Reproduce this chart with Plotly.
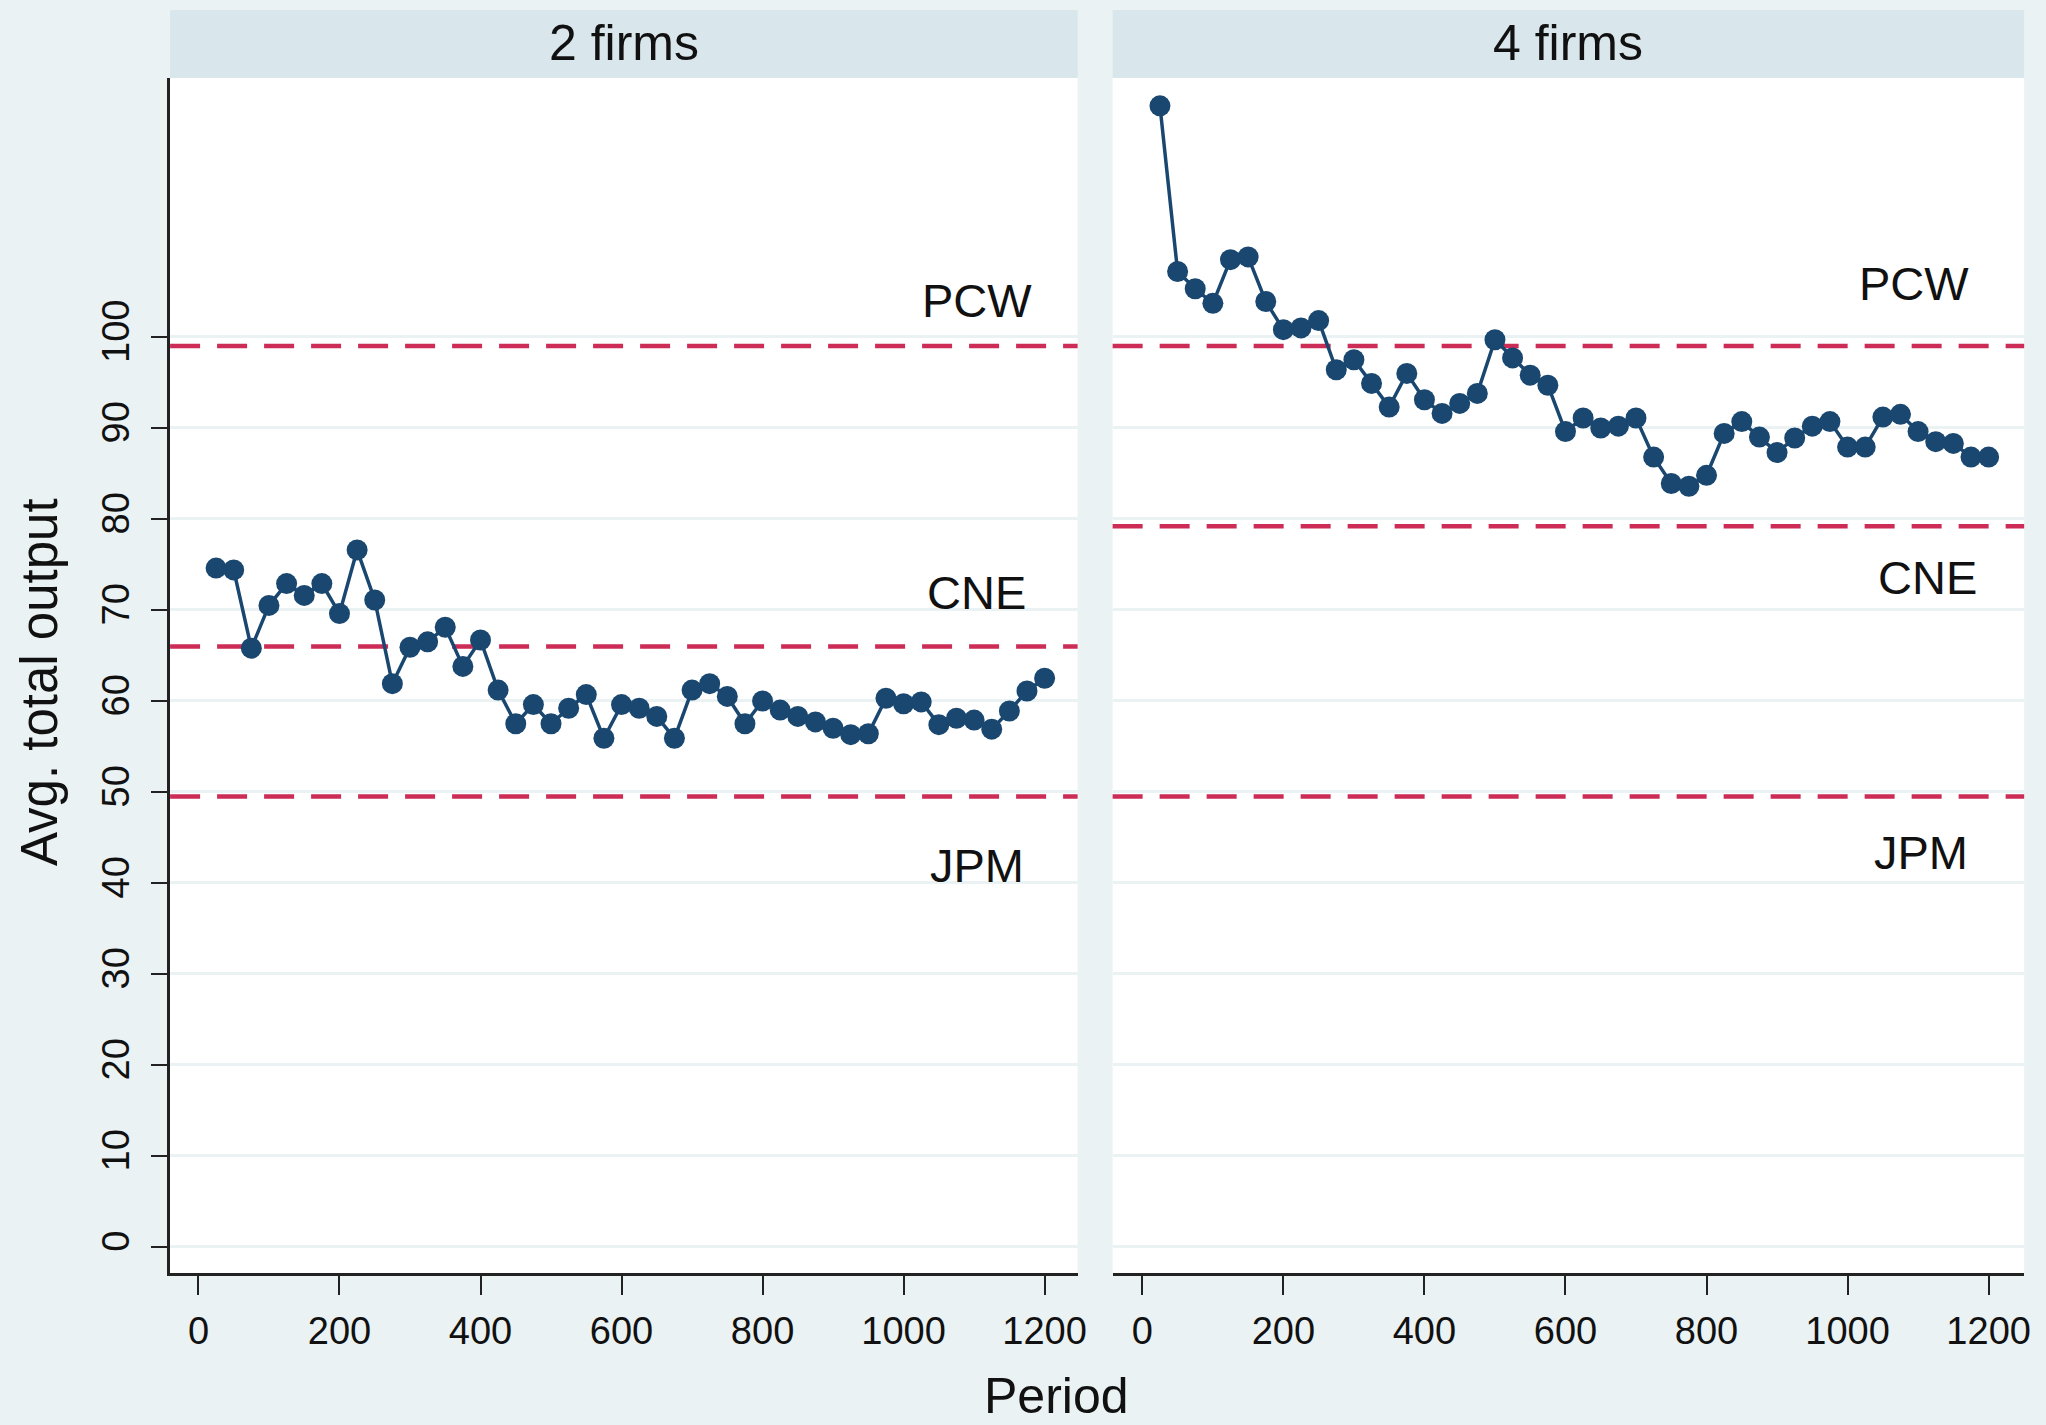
import plotly.graph_objects as go
from plotly.subplots import make_subplots

# Period at which each average is taken
periods = [25, 50, 75, 100, 125, 150, 175, 200, 225, 250, 275, 300,
           325, 350, 375, 400, 425, 450, 475, 500, 525, 550, 575, 600,
           625, 650, 675, 700, 725, 750, 775, 800, 825, 850, 875, 900,
           925, 950, 975, 1000, 1025, 1050, 1075, 1100, 1125, 1150, 1175, 1200]

# Average total output, duopoly markets
output_2firms = [74.6, 74.4, 65.8, 70.5, 72.9, 71.6, 72.9, 69.6, 76.6, 71.1, 61.9, 65.9,
                 66.5, 68.1, 63.8, 66.7, 61.2, 57.5, 59.6, 57.5, 59.2, 60.7, 55.9, 59.6,
                 59.2, 58.3, 55.9, 61.2, 61.9, 60.5, 57.5, 60.0, 59.0, 58.3, 57.7, 57.0,
                 56.3, 56.4, 60.3, 59.7, 59.9, 57.4, 58.1, 57.9, 56.9, 58.9, 61.1, 62.5]

# Average total output, four-firm markets
output_4firms = [125.4, 107.2, 105.3, 103.7, 108.5, 108.8, 103.9, 100.8, 101.0, 101.8, 96.4, 97.5,
                 94.9, 92.3, 96.0, 93.1, 91.6, 92.7, 93.8, 99.7, 97.7, 95.8, 94.7, 89.6,
                 91.1, 90.0, 90.2, 91.1, 86.8, 83.9, 83.6, 84.8, 89.4, 90.7, 89.0, 87.3,
                 88.9, 90.2, 90.7, 87.9, 87.9, 91.2, 91.5, 89.6, 88.5, 88.3, 86.8, 86.8]

panel_titles = ["2 firms", "4 firms"]

# Theoretical benchmarks: competitive, Cournot-Nash, joint-profit maximum
benchmark_names = ["PCW", "CNE", "JPM"]
benchmarks_2firms = [99, 66, 49.5]
benchmarks_4firms = [99, 79.2, 49.5]
label_x_2firms = [1104, 1104, 1104]
label_y_2firms = [104.0, 71.9, 41.9]
label_x_4firms = [1094, 1113, 1104]
label_y_4firms = [105.9, 73.6, 43.3]

y_ticks = [0, 10, 20, 30, 40, 50, 60, 70, 80, 90, 100]
x_ticks = [0, 200, 400, 600, 800, 1000, 1200]

W, H = 2046, 1425
XS = 1.005  # horizontal layout scale
BG = "#EAF2F3"
STRIP = "#D9E6EC"
NAVY = "#1A476F"
RED = "#CC2C55"
FONT = "Liberation Sans, Arial, Helvetica, sans-serif"
INK = "#111111"


def px_x(p):
    return min(p * XS / W, 1.0)


def px_y(p):
    return 1 - p / H


left_dom = [px_x(170), px_x(1077)]
right_dom = [px_x(1112), px_x(2023)]
plot_top, plot_bottom = 78, 1273
strip_top = 10

fig = make_subplots(rows=1, cols=2, shared_yaxes=True, horizontal_spacing=0.02)

series = [output_2firms, output_4firms]
for i, ys in enumerate(series):
    fig.add_trace(
        go.Scatter(
            x=periods, y=ys, mode="lines+markers",
            line=dict(color=NAVY, width=3.5),
            marker=dict(color=NAVY, size=21, line=dict(width=0)),
            showlegend=False, cliponaxis=False,
        ),
        row=1, col=i + 1,
    )

# Benchmark lines and their labels
for i, (vals, lx, ly) in enumerate([
    (benchmarks_2firms, label_x_2firms, label_y_2firms),
    (benchmarks_4firms, label_x_4firms, label_y_4firms),
]):
    xr = "x" if i == 0 else "x2"
    yr = "y" if i == 0 else "y2"
    for name, v, tx, ty in zip(benchmark_names, vals, lx, ly):
        fig.add_shape(
            type="line", xref=f"{xr} domain", yref=yr,
            x0=0, x1=1, y0=v, y1=v, layer="below",
            line=dict(color=RED, width=4.5, dash="30px,17px"),
        )
        fig.add_annotation(
            x=tx, y=ty, xref=xr, yref=yr, text=name, showarrow=False,
            xanchor="center", yanchor="middle",
            font=dict(family=FONT, size=47, color=INK),
        )

# Panel header strips
for dom, title in zip([left_dom, right_dom], panel_titles):
    fig.add_shape(
        type="rect", xref="paper", yref="paper",
        x0=dom[0], x1=dom[1], y0=px_y(plot_top), y1=px_y(strip_top),
        fillcolor=STRIP, line=dict(width=0), layer="below",
    )
    fig.add_annotation(
        x=(dom[0] + dom[1]) / 2, y=px_y(43), xref="paper", yref="paper",
        text=title, showarrow=False, xanchor="center", yanchor="middle",
        font=dict(family=FONT, size=50, color=INK),
    )

# Axis titles
fig.add_annotation(
    x=px_x(39), y=px_y(682), xref="paper", yref="paper",
    text="Avg. total output", textangle=-90, showarrow=False,
    xanchor="center", yanchor="middle",
    font=dict(family=FONT, size=51, color=INK),
)
fig.add_annotation(
    x=px_x(1056), y=px_y(1396), xref="paper", yref="paper",
    text="Period", showarrow=False, xanchor="center", yanchor="middle",
    font=dict(family=FONT, size=50, color=INK),
)

y_range = [-2.86, 128.46]
xaxis_common = dict(
    tickvals=x_ticks, ticks="outside", ticklen=19, tickwidth=2, tickcolor="#222222",
    showline=True, linecolor="#222222", linewidth=3, showgrid=False, zeroline=False,
    tickfont=dict(family=FONT, size=38, color=INK),
    ticklabelstandoff=3,
)
fig.update_xaxes(domain=left_dom, range=[-40.2, 1246.8], row=1, col=1, **xaxis_common)
fig.update_xaxes(domain=right_dom, range=[-42.1, 1250.4], row=1, col=2, **xaxis_common)

fig.update_yaxes(
    range=y_range, domain=[px_y(plot_bottom), px_y(plot_top)], tickvals=y_ticks,
    showgrid=True, gridcolor=BG, gridwidth=3, zeroline=False,
)
fig.update_yaxes(
    ticks="outside", ticklen=16, tickwidth=2, tickcolor="#222222",
    showline=True, linecolor="#222222", linewidth=3, tickangle=-90,
    tickfont=dict(family=FONT, size=38, color=INK),
    ticklabelstandoff=7,
    row=1, col=1,
)
fig.update_yaxes(showticklabels=False, ticks="", showline=False, row=1, col=2)

fig.update_layout(
    width=W, height=H, autosize=False,
    margin=dict(l=0, r=0, t=0, b=0),
    paper_bgcolor=BG, plot_bgcolor="white",
    showlegend=False,
)

fig.write_html("out.html", config={"responsive": False})
